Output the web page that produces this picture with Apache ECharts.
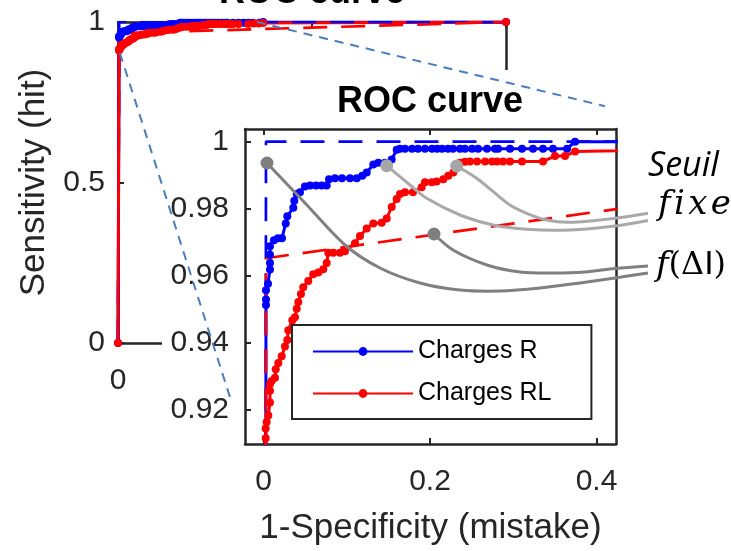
<!DOCTYPE html>
<html><head><meta charset="utf-8">
<script src="https://cdn.jsdelivr.net/npm/echarts@6/dist/echarts.min.js"></script>
<style>html,body{margin:0;padding:0;background:#fff}#c{width:731px;height:551px}</style>
</head><body><div id="c"></div>
<script>
// ---------- data ----------
const seriesNames = ['Charges R', 'Charges RL'];
const blueX = [0, 0.003, 0.003, 0.003, 0.0054, 0.0078, 0.0078, 0.0078, 0.0078, 0.0126, 0.0174, 0.0222,
  0.0267, 0.0286, 0.0358, 0.0370, 0.0399, 0.0438, 0.0498, 0.0559, 0.0631, 0.0699, 0.0759, 0.0787,
  0.0859, 0.0943, 0.1039, 0.1120, 0.1187, 0.1240, 0.1319, 0.1379, 0.1460, 0.1540, 0.1600, 0.1640,
  0.1700, 0.1784, 0.1856, 0.1940, 0.2024, 0.2084, 0.2144, 0.2216, 0.2276, 0.2360, 0.2420, 0.2505,
  0.2577, 0.2685, 0.2781, 0.2817, 0.2961, 0.3105, 0.3237, 0.3357, 0.3477, 0.3646, 0.3742, 1];
const blueY = [0, 0.9512, 0.9529, 0.9556, 0.9576, 0.9618, 0.9638, 0.9662, 0.9688, 0.9706, 0.9712, 0.9712,
  0.9756, 0.9777, 0.9803, 0.9824, 0.9844, 0.9849, 0.9866, 0.9869, 0.9869, 0.9869, 0.9869, 0.9888,
  0.9891, 0.9891, 0.9891, 0.9891, 0.9898, 0.9908, 0.9932, 0.9937, 0.9937, 0.9947, 0.9976, 0.9979,
  0.9979, 0.9979, 0.9979, 0.9979, 0.9979, 0.9979, 0.9979, 0.9979, 0.9979, 0.9979, 0.9979, 0.9979,
  0.9979, 0.9979, 0.9979, 0.9979, 0.9979, 0.9979, 0.9979, 0.9979, 0.9979, 0.9979, 1.0, 1];
const redX = [0, 0.0026, 0.0026, 0.0038, 0.0058, 0.0078, 0.0078, 0.0078, 0.0098, 0.0138, 0.0147, 0.0178,
  0.0219, 0.0258, 0.0286, 0.0298, 0.0346, 0.0378, 0.0399, 0.0418, 0.0450, 0.0478, 0.0538, 0.0598,
  0.0658, 0.0718, 0.0759, 0.0778, 0.0838, 0.0919, 0.0979, 0.1099, 0.1159, 0.1240, 0.1319, 0.1420,
  0.1480, 0.1540, 0.1600, 0.1640, 0.1700, 0.1796, 0.1900, 0.1940, 0.2020, 0.2080, 0.2160, 0.2220,
  0.2280, 0.2321, 0.2360, 0.2420, 0.2480, 0.2565, 0.2661, 0.2745, 0.2805, 0.2877, 0.2961, 0.3105,
  0.3357, 0.3501, 0.3622, 0.3742, 1];
const redY = [0, 0.9114, 0.9143, 0.9163, 0.9182, 0.9221, 0.9256, 0.9276, 0.9285, 0.9295, 0.9320, 0.9339,
  0.9359, 0.9388, 0.9408, 0.9437, 0.9467, 0.9476, 0.9501, 0.9521, 0.9545, 0.9565, 0.9584, 0.9604,
  0.9609, 0.9619, 0.9638, 0.9668, 0.9668, 0.9668, 0.9673, 0.9697, 0.9718, 0.9741, 0.9756, 0.9758,
  0.9771, 0.9805, 0.9829, 0.9844, 0.9849, 0.9849, 0.9864, 0.9879, 0.9879, 0.9881, 0.9888, 0.9898,
  0.9908, 0.9929, 0.9937, 0.9940, 0.9941, 0.9941, 0.9941, 0.9941, 0.9941, 0.9941, 0.9941, 0.9941,
  0.9941, 0.9957, 0.9957, 0.9971, 1];
const blueFixedX = [0, 0.003, 1];
const blueFixedY = [0, 1, 1];
const redFixedX = [0, 0.003, 1];
const redFixedY = [0, 0.9652, 1];
const mainTicks = [0, 0.5, 1];
const insetXTicks = [0, 0.2, 0.4];
const insetYTicks = [0.92, 0.94, 0.96, 0.98, 1];

// ---------- helpers ----------
const zip = (xs, ys) => xs.map((x, i) => [x, ys[i]]);
const FONT = 'Arial, "Liberation Sans", Helvetica, sans-serif';
const AX = '#262626';
const fmt = v => (v === 0 || v === 1) ? String(v) : String(+v.toFixed(2));

function solid(name, color, xs, ys, gi, z) {
  return { name, type: 'line', xAxisIndex: gi, yAxisIndex: gi, data: zip(xs, ys),
    symbol: 'circle', symbolSize: 8, z,
    lineStyle: { color, width: 3 }, itemStyle: { color }, animation: false };
}
function dashed(name, color, xs, ys, gi, z) {
  return { name, type: 'line', xAxisIndex: gi, yAxisIndex: gi, data: zip(xs, ys),
    symbol: 'none', z, lineStyle: { color, width: 2.7, type: [24, 14] }, animation: false };
}
function xAx(gi, pos, min, max, ticks, showLabel, extra) {
  return Object.assign({ gridIndex: gi, type: 'value', position: pos, min, max,
    axisLine: { show: true, onZero: false, lineStyle: { color: AX, width: 2.5 } },
    axisTick: { show: true, inside: true, length: 6, customValues: ticks, lineStyle: { color: AX, width: 2 } },
    axisLabel: { show: showLabel, customValues: ticks, formatter: fmt, fontSize: 30, color: AX, fontFamily: FONT, margin: 23 },
    splitLine: { show: false } }, extra || {});
}
function yAx(gi, pos, min, max, ticks, showLabel, extra) {
  return Object.assign({ gridIndex: gi, type: 'value', position: pos, min, max,
    axisLine: { show: true, onZero: false, lineStyle: { color: AX, width: 2.5 } },
    axisTick: { show: ticks.length > 0, inside: true, length: 6, customValues: ticks, lineStyle: { color: AX, width: 2 } },
    axisLabel: { show: showLabel, customValues: ticks, formatter: fmt, fontSize: 30, color: AX, fontFamily: FONT, margin: 13 },
    splitLine: { show: false } }, extra || {});
}

const chart = echarts.init(document.getElementById('c'), null, { renderer: 'canvas' });
chart.setOption({
  animation: false,
  backgroundColor: '#fff',
  grid: [
    { left: 118, top: 22, width: 388, height: 321 },
    { left: 245, top: 129, width: 371, height: 320 }
  ],
  xAxis: [
    xAx(0, 'bottom', 0, 1, mainTicks, true),
    xAx(0, 'top', 0, 1, mainTicks, false),
    xAx(1, 'bottom', -0.0222, 0.4234, insetXTicks, true, { z: 10, name: '1-Specificity (mistake)',
      nameLocation: 'middle', nameGap: 67, nameTextStyle: { fontSize: 35, color: AX, fontFamily: FONT } }),
    xAx(1, 'top', -0.0222, 0.4234, insetXTicks, false, { z: 10 })
  ],
  yAxis: [
    yAx(0, 'left', 0, 1, mainTicks, true, { name: 'Sensitivity (hit)', nameLocation: 'middle', nameGap: 66,
      nameTextStyle: { fontSize: 35, color: AX, fontFamily: FONT } }),
    yAx(0, 'right', 0, 1, [], false),
    yAx(1, 'left', 0.9097, 1.0038, insetYTicks, true, { z: 10, axisLabel: { customValues: insetYTicks, formatter: fmt,
      fontSize: 30, color: AX, fontFamily: FONT, margin: 16 } }),
    yAx(1, 'right', 0.9097, 1.0038, [], false, { z: 10 })
  ],
  legend: {
    data: seriesNames, left: 292, top: 325, orient: 'vertical', z: 20,
    padding: [14, 40, 13, 20], itemGap: 17, itemWidth: 100, itemHeight: 11,
    backgroundColor: '#fff', borderColor: AX, borderWidth: 2, borderRadius: 0,
    textStyle: { fontSize: 25, color: '#000', fontFamily: FONT }
  },
  series: [
    solid(seriesNames[0], '#0000ff', blueX, blueY, 0, 2),
    solid(seriesNames[1], '#ff0000', redX, redY, 0, 2),
    dashed('Seuil R', '#0000ff', blueFixedX, blueFixedY, 0, 2),
    dashed('Seuil RL', '#ff0000', redFixedX, redFixedY, 0, 2),
    solid(seriesNames[0], '#0000ff', blueX, blueY, 2, 11),
    solid(seriesNames[1], '#ff0000', redX, redY, 2, 11),
    dashed('Seuil R', '#0000ff', blueFixedX, blueFixedY, 2, 11),
    dashed('Seuil RL', '#ff0000', redFixedX, redFixedY, 2, 11)
  ]
});

// ---------- annotations ----------
const annotDark = [
  [[267,163],[305,203],[345,245],[380,268],[420,283],[460,290],[500,291],[540,288],[580,283],[615,278],[648,273]],
  [[434,234],[453,250],[487,265],[520,272],[553,273],[585,272],[615,268.5],[648,266]]
];
const annotLight = [
  [[386.7,165.7],[410,185],[426.7,198.3],[460,215],[493.3,225],[526.7,229.3],[570,230],[615,226],[648,220.5]],
  [[456.7,166],[476.7,178.3],[493.3,191.7],[510,205],[526.7,213.3],[546.7,220],[570,222.3],[615,218.3],[648,213.3]]
];
const p0 = chart.convertToPixel({ gridIndex: 0 }, [0.005, 0.903]);
const p1 = chart.convertToPixel({ gridIndex: 1 }, [-0.0378, 0.9218]);
const q0 = chart.convertToPixel({ gridIndex: 0 }, [0.358, 1.0]);
const q1 = chart.convertToPixel({ gridIndex: 1 }, [0.4102, 1.0106]);

const g = [];
g.push({ type: 'rect', z: 5, silent: true, shape: { x: 162, y: 70, width: 569, height: 481 }, style: { fill: '#fff' } });
g.push({ type: 'text', z: 20, x: 312, y: -7, style: { text: 'ROC curve', font: 'bold 36px ' + FONT, fill: '#000', textAlign: 'center', textVerticalAlign: 'middle' } });
g.push({ type: 'text', z: 20, x: 430, y: 102, style: { text: 'ROC curve', font: 'bold 36px ' + FONT, fill: '#000', textAlign: 'center', textVerticalAlign: 'middle' } });
annotDark.forEach(pts => g.push({ type: 'polyline', z: 30, silent: true, shape: { points: pts, smooth: 0.3 }, style: { stroke: '#808080', lineWidth: 3, fill: null } }));
annotLight.forEach(pts => g.push({ type: 'polyline', z: 30, silent: true, shape: { points: pts, smooth: 0.3 }, style: { stroke: '#a9a9a9', lineWidth: 3, fill: null } }));
annotDark.forEach(pts => g.push({ type: 'circle', z: 31, shape: { cx: pts[0][0], cy: pts[0][1], r: 6.5 }, style: { fill: '#7f7f7f' } }));
annotLight.forEach(pts => g.push({ type: 'circle', z: 31, shape: { cx: pts[0][0], cy: pts[0][1], r: 6.5 }, style: { fill: '#a6a6a6' } }));
g.push({ type: 'line', z: 32, shape: { x1: p0[0], y1: p0[1], x2: p1[0], y2: p1[1] }, style: { stroke: '#4a7ebb', lineWidth: 2, lineDash: [9, 7] } });
g.push({ type: 'line', z: 32, shape: { x1: q0[0], y1: q0[1], x2: q1[0], y2: q1[1] }, style: { stroke: '#4a7ebb', lineWidth: 2, lineDash: [9, 7] } });
g.push({ type: 'text', z: 33, x: 648, y: 166, style: { text: 'Seuil', font: 'italic 34px "Open Sans", sans-serif', fill: '#000', textVerticalAlign: 'middle' } });
g.push({ type: 'text', z: 33, x: 658, y: 205, style: { text: 'f\u200Ai\u200Ax\u200Ae', font: 'italic 34px "DejaVu Serif", serif', fill: '#000', textVerticalAlign: 'middle' } });
g.push({ type: 'text', z: 33, x: 656, y: 266, style: { text: '{a|f}{b|(Δ}{c|I}{b|)}', textVerticalAlign: 'middle', fill: '#000',
  rich: { a: { font: 'italic 34px "DejaVu Serif", serif', fill: '#000' }, b: { font: '32px "DejaVu Serif", serif', fill: '#000' }, c: { font: '32px "DejaVu Sans", sans-serif', fill: '#000' } } } });
chart.setOption({ graphic: g });
</script></body></html>
